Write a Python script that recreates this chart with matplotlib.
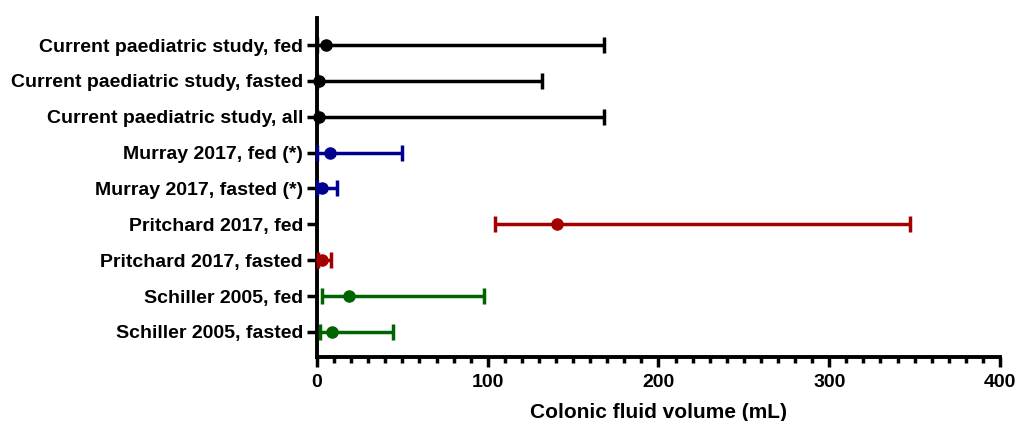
import matplotlib
matplotlib.use("Agg")
import matplotlib.pyplot as plt
from matplotlib.ticker import MultipleLocator

labels = [
    "Current paediatric study, fed",
    "Current paediatric study, fasted",
    "Current paediatric study, all",
    "Murray 2017, fed (*)",
    "Murray 2017, fasted (*)",
    "Pritchard 2017, fed",
    "Pritchard 2017, fasted",
    "Schiller 2005, fed",
    "Schiller 2005, fasted",
]
centre = [5, 1, 1, 7.6, 2.7, 140.5, 2.7, 18.7, 8.6]
low = [0, 0, 0, 0, 0, 104.5, 0.5, 2.7, 1.8]
high = [168, 132, 168, 50, 12, 347.5, 8, 97.8, 44.7]
colors = ["#000000", "#000000", "#000000", "#00008F", "#00008F",
          "#A50000", "#A50000", "#006400", "#006400"]

plt.rcParams['font.family'] = ['Liberation Sans', 'DejaVu Sans']
plt.rcParams['font.weight'] = 'bold'

fig = plt.figure(figsize=(10.18, 4.21), dpi=100)
ax = fig.add_axes([0.3114, 0.152, 0.6709, 0.805])

n = len(labels)
ypos = list(range(n, 0, -1))
for y, c, lo, hi, col in zip(ypos, centre, low, high, colors):
    ax.errorbar([c], [y], xerr=[[c - lo], [hi - c]], fmt='o', color=col,
                ecolor=col, elinewidth=2.5, capsize=5.5, capthick=2.5,
                markersize=8, clip_on=False, zorder=3)

ax.set_xlim(0, 400)
ax.set_ylim(0.3, n + 0.75)
ax.set_yticks(ypos)
ax.set_yticklabels(labels, fontsize=14, fontweight='bold')
ax.xaxis.set_major_locator(MultipleLocator(100))
ax.xaxis.set_minor_locator(MultipleLocator(10))
for lbl in ax.get_xticklabels():
    lbl.set_fontsize(14)
    lbl.set_fontweight('bold')
ax.set_xlabel("Colonic fluid volume (mL)", fontsize=15, fontweight='bold', labelpad=9)

for s in ['top', 'right']:
    ax.spines[s].set_visible(False)
for s in ['left', 'bottom']:
    ax.spines[s].set_linewidth(2.8)
ax.tick_params(axis='both', which='major', length=7, width=2.5, direction='out')
ax.tick_params(axis='x', which='minor', length=4.5, width=2.5, direction='out')
ax.tick_params(axis='y', pad=3)
ax.tick_params(axis='x', pad=5)

fig.savefig("out.png", dpi=100)
